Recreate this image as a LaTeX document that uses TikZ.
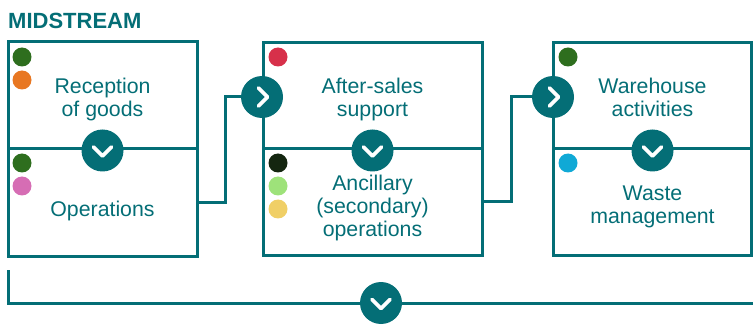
\documentclass[tikz,border=0pt]{standalone}
\usepackage{fontspec}
\setmainfont{Liberation Sans}
\definecolor{teal}{RGB}{4,110,118}
\definecolor{dgreen}{RGB}{46,110,30}
\definecolor{dorange}{RGB}{232,119,34}
\definecolor{dpink}{RGB}{214,109,180}
\definecolor{dred}{RGB}{215,48,74}
\definecolor{dblack}{RGB}{20,38,16}
\definecolor{lgreen}{RGB}{158,226,122}
\definecolor{dyellow}{RGB}{240,207,102}
\definecolor{dcyan}{RGB}{16,169,214}
\tikzset{
  panel/.style={draw=teal, line width=3pt, inner sep=0pt, rectangle},
  conn/.style={draw=teal, line width=3pt},
  btn/.style={circle, fill=teal, minimum size=42pt, inner sep=0pt},
  chev/.style={draw=white, line width=3.6pt, line cap=round, line join=round},
  dot/.style={circle, minimum size=19pt, inner sep=0pt},
  lbl/.style={text=teal, font=\fontsize{21.3}{23}\selectfont, align=center, inner sep=0pt},
}
\begin{document}
\begin{tikzpicture}[x=1pt,y=-1pt]
\useasboundingbox (0,0) rectangle (753,326);
% title
\node[anchor=base west, text=teal, font=\fontsize{22}{24}\bfseries\selectfont, inner sep=0pt] (title) at (8,29) {MIDSTREAM};
% panels
\node[panel, minimum width=189pt, minimum height=107pt] (L1) at (102.5,95.5) {};
\node[panel, minimum width=189pt, minimum height=107pt] (L2) at (102.5,202.5) {};
\node[panel, minimum width=219pt, minimum height=106pt] (M1) at (372.5,96) {};
\node[panel, minimum width=219pt, minimum height=106pt] (M2) at (372.5,202) {};
\node[panel, minimum width=198pt, minimum height=106pt] (R1) at (652.5,96) {};
\node[panel, minimum width=198pt, minimum height=106pt] (R2) at (652.5,202) {};
% labels
\node[lbl] (tL1) at (102.5,100.9) {\strut Reception\\\strut of goods};
\node[lbl] (tL2) at (102.5,211.4) {\strut Operations};
\node[lbl] (tM1) at (372.5,100.4) {\strut After-sales\\\strut support};
\node[lbl] (tM2) at (372.5,209.2) {\strut Ancillary\\\strut (secondary)\\\strut operations};
\node[lbl] (tR1) at (652.5,100.2) {\strut Warehouse\\\strut activities};
\node[lbl] (tR2) at (652.5,207.6) {\strut Waste\\\strut management};
% dots
\node[dot, fill=dgreen] (d1) at (22,57) {};
\node[dot, fill=dorange] (d2) at (22,80) {};
\node[dot, fill=dgreen] (d3) at (22,163) {};
\node[dot, fill=dpink] (d4) at (22,186) {};
\node[dot, fill=dred] (d5) at (278,57) {};
\node[dot, fill=dblack] (d6) at (278,163) {};
\node[dot, fill=lgreen] (d7) at (278,186) {};
\node[dot, fill=dyellow] (d8) at (278,209) {};
\node[dot, fill=dgreen] (d9) at (568,57) {};
\node[dot, fill=dcyan] (d10) at (568,163) {};
% connectors
\coordinate (k1) at (225,202.5);
\coordinate (k2) at (511,202);
\coordinate (b0) at (8,270);
\coordinate (b2) at (753,303);
\node[btn] (c1) at (262,97) {};
\node[btn] (c2) at (553,97) {};
\draw[conn] (L2.east) -- (k1) |- (c1);
\draw[conn] (M2.east) -- (k2) |- (c2);
\draw[conn] (b0) |- (b2);
% down buttons
\node[btn] (v1) at (L1.south) {};
\node[btn] (v2) at (M1.south) {};
\node[btn] (v3) at (R1.south) {};
\node[btn] (v4) at (381,303) {};
\foreach \n in {v1,v2,v3,v4}{
  \draw[chev] ([shift={(-9,-3.5)}]\n.center) -- ([shift={(0,5.5)}]\n.center) -- ([shift={(9,-3.5)}]\n.center);
}
\foreach \n in {c1,c2}{
  \draw[chev] ([shift={(-3.5,-9)}]\n.center) -- ([shift={(5.5,0)}]\n.center) -- ([shift={(-3.5,9)}]\n.center);
}
\end{tikzpicture}
\end{document}
